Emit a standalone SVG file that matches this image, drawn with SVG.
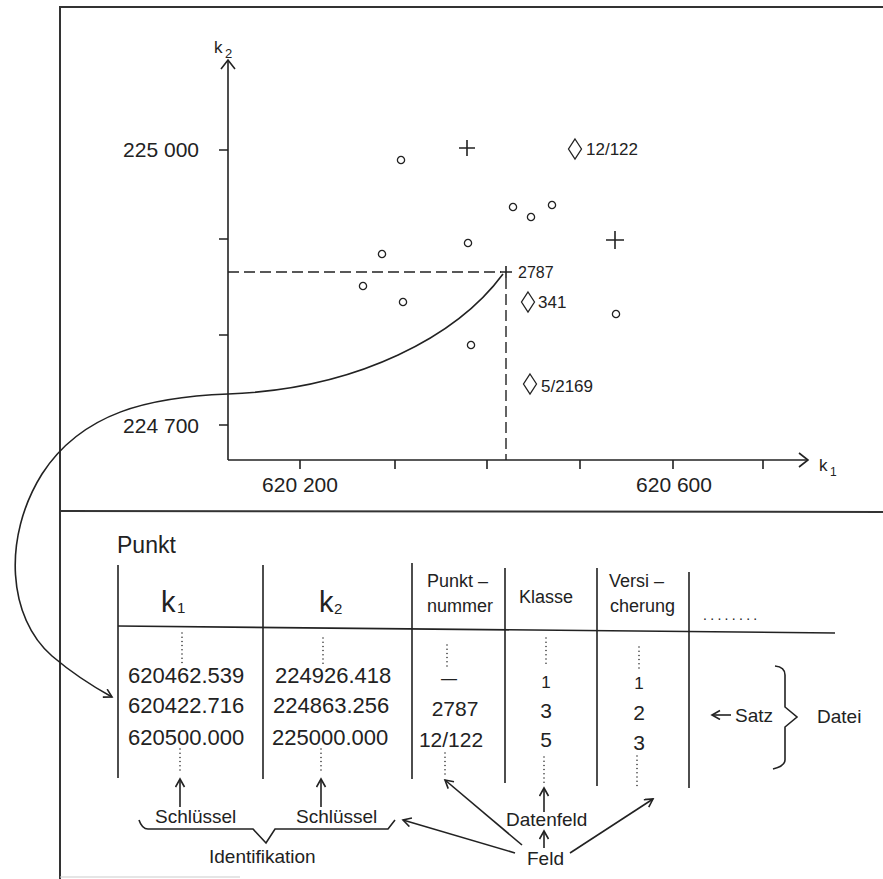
<svg xmlns="http://www.w3.org/2000/svg" width="883" height="879" viewBox="0 0 883 879">
<defs>
<style>
text{font-family:"Liberation Sans",Arial,sans-serif;fill:#222}
.ln{stroke:#222;stroke-width:1.6;fill:none}
.fr{stroke:#333;stroke-width:2;fill:none}
.ds{stroke:#222;stroke-width:1.4;fill:none;stroke-dasharray:11 5}
.dt{stroke:#222;stroke-width:1.5;fill:none;stroke-linecap:round;stroke-dasharray:0 4.2}
.ar{stroke:#222;stroke-width:1.6;fill:none;marker-end:url(#v)}
.pt{stroke:#222;stroke-width:1.3;fill:none}
.mid{text-anchor:middle}
</style>
<marker id="v" markerUnits="userSpaceOnUse" markerWidth="12" markerHeight="12" refX="9" refY="5" orient="auto" viewBox="0 0 12 12">
<path d="M1,0.5 L9,5 L1,9.5" fill="none" stroke="#222" stroke-width="1.6"/>
</marker>
<circle id="c" r="3.6" class="pt"/>
<path id="dia" d="M0,-10 L6.5,0 L0,10 L-6.5,0 Z" class="pt"/>
</defs>

<g id="frame">
<path class="fr" d="M60,879 L60,7 L883,7"/>
<line class="fr" x1="60" y1="511" x2="883" y2="512"/>
<line x1="60" y1="877" x2="240" y2="877" stroke="#ccc" stroke-width="1.2"/>
</g>

<g id="plot">
<g id="axes">
<line class="ln" x1="228" y1="60" x2="228" y2="460"/>
<line class="ln" x1="228" y1="460" x2="808" y2="460"/>
<path class="ln" d="M221,69 L228,60 L235,69"/>
<path class="ln" d="M799,453 L808,460 L799,467"/>
<path class="ln" d="M219,150 H228 M219,239 H228 M219,335 H228 M219,425 H228"/>
<path class="ln" d="M300,460 V469 M395,460 V469 M487,460 V469 M580,460 V469 M673,460 V469 M763,460 V469"/>
<text x="214" y="53" font-size="17">k</text><text x="225" y="58" font-size="13">2</text>
<text x="819" y="471" font-size="17">k</text><text x="830" y="476" font-size="12">1</text>
<text x="199" y="157" font-size="21" text-anchor="end">225 000</text>
<text x="199" y="433" font-size="21" text-anchor="end">224 700</text>
<text x="300" y="492" font-size="21" class="mid">620 200</text>
<text x="674" y="492" font-size="21" class="mid">620 600</text>
</g>
<g id="guides">
<line class="ds" x1="228" y1="272" x2="501" y2="272"/>
<line class="ds" x1="506" y1="278" x2="506" y2="460"/>
</g>
<g id="points">
<use href="#c" x="401" y="160"/>
<use href="#c" x="513" y="207"/>
<use href="#c" x="531" y="217"/>
<use href="#c" x="552" y="205"/>
<use href="#c" x="468" y="243"/>
<use href="#c" x="382" y="254"/>
<use href="#c" x="363" y="286"/>
<use href="#c" x="403" y="302"/>
<use href="#c" x="471" y="345"/>
<use href="#c" x="616" y="314"/>
<path class="ln" d="M459,148 H475 M467,140 V156"/>
<path class="ln" d="M606,240 H624 M615,231 V249"/>
<path class="ln" d="M500,272 H512 M506,266 V278"/>
<text x="518" y="278" font-size="16">2787</text>
<use href="#dia" x="575" y="149"/>
<text x="586" y="155" font-size="17">12/122</text>
<use href="#dia" x="528" y="302"/>
<text x="538" y="308" font-size="17">341</text>
<use href="#dia" x="530" y="384"/>
<text x="541" y="392" font-size="17">5/2169</text>
</g>
</g>

<g id="table">
<text x="117" y="553" font-size="23">Punkt</text>
<path class="ln" d="M118,565 V778 M263,565 V779 M412,563 V779 M505,568 V783 M597,568 V786 M689,572 V788"/>
<line class="ln" x1="118" y1="626" x2="835" y2="633"/>
<g id="h-k1"><text x="161" y="612" font-size="29">k</text><text x="177" y="613" font-size="15">1</text></g>
<g id="h-k2"><text x="319" y="612" font-size="29">k</text><text x="334" y="614" font-size="15">2</text></g>
<g id="h-pn"><text x="427" y="587" font-size="18">Punkt –</text><text x="427" y="612" font-size="18">nummer</text></g>
<g id="h-kl"><text x="519" y="603" font-size="18">Klasse</text></g>
<g id="h-vs"><text x="609" y="587" font-size="18">Versi –</text><text x="610" y="612" font-size="18">cherung</text></g>
<text x="703" y="620" font-size="14" letter-spacing="3.3">........</text>
<g id="rows">
<text x="128" y="683" font-size="22">620462.539</text>
<text x="275" y="683" font-size="22">224926.418</text>
<text x="449" y="684" font-size="16" class="mid">—</text>
<text x="546" y="688" font-size="17" class="mid">1</text>
<text x="639" y="689" font-size="17" class="mid">1</text>
<text x="128" y="713" font-size="22">620422.716</text>
<text x="273" y="713" font-size="22">224863.256</text>
<text x="455" y="716" font-size="21" class="mid">2787</text>
<text x="546" y="718" font-size="21" class="mid">3</text>
<text x="639" y="720" font-size="21" class="mid">2</text>
<text x="128" y="745" font-size="22">620500.000</text>
<text x="272" y="745" font-size="22">225000.000</text>
<text x="451" y="747" font-size="21" class="mid">12/122</text>
<text x="546" y="747" font-size="21" class="mid">5</text>
<text x="639" y="750" font-size="21" class="mid">3</text>
</g>
<path class="dt" d="M182,633 V665 M323,638 V667 M447,645 V670 M546,638 V665 M639,647 V670"/>
<path class="dt" d="M180,749 V772 M321,749 V772 M445,753 V775 M544,757 V785 M637,756 V787"/>
</g>

<g id="labels">
<text x="155" y="823" font-size="19">Schlüssel</text>
<text x="296" y="823" font-size="19">Schlüssel</text>
<path class="ln" d="M139,820 Q142,829 148,829 L253,829 L266,843 L275,829 L388,829 L395,820"/>
<text x="209" y="863" font-size="19">Identifikation</text>
<text x="506" y="826" font-size="19">Datenfeld</text>
<text x="527" y="865" font-size="19">Feld</text>
<text x="735" y="722" font-size="19">Satz</text>
<path class="ln" d="M775,666 Q785,667 785,675 L785,707 L797,717 L785,727 L785,760 Q785,766 773,769"/>
<text x="817" y="723" font-size="19">Datei</text>
</g>

<g id="connectors">
<path class="ar" d="M503,274 C458,335 360,389 228,394 C150,397 82,412 42,474 C2,538 8,618 52,656 C72,673 92,686 112,697"/>
<line class="ar" x1="180" y1="807" x2="180" y2="779"/>
<line class="ar" x1="321" y1="807" x2="321" y2="779"/>
<line class="ar" x1="515" y1="853" x2="403" y2="820"/>
<line class="ar" x1="522" y1="845" x2="445" y2="780"/>
<line class="ar" x1="544" y1="848" x2="544" y2="831"/>
<line class="ar" x1="544" y1="812" x2="544" y2="788"/>
<line class="ar" x1="570" y1="853" x2="653" y2="799"/>
<line class="ar" x1="731" y1="715" x2="712" y2="715"/>
</g>
</svg>
